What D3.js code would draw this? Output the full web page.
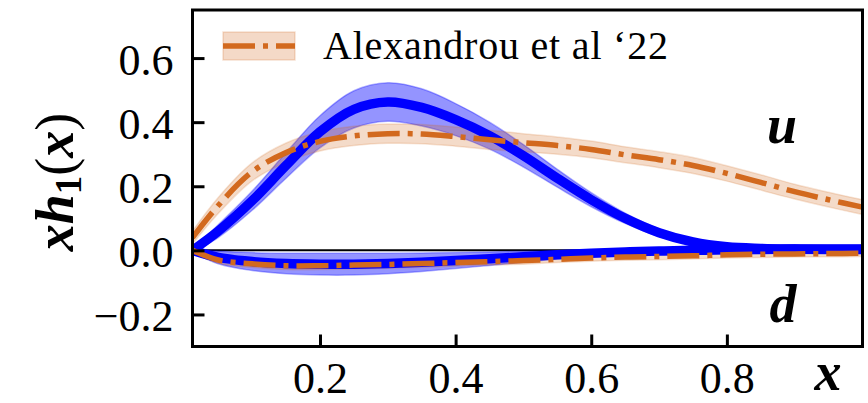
<!DOCTYPE html>
<html><head><meta charset="utf-8">
<script src="https://cdn.jsdelivr.net/npm/d3@7"></script>
<style>html,body{margin:0;padding:0;background:#fff;}svg{display:block;}</style>
</head><body>
<svg id="chart" width="868" height="403"></svg>
<script>
// ---- data ----
const xGrid   = [0.012,0.05,0.1,0.15,0.2,0.25,0.3,0.35,0.4,0.45,0.5,0.55,0.6,0.65,0.7,0.75,0.8,0.85,0.9,0.95,1.0];
const uLat    = [0.0,0.06,0.155,0.265,0.37,0.44,0.463,0.446,0.408,0.358,0.295,0.225,0.158,0.10,0.055,0.026,0.011,0.006,0.004,0.003,0.003];
const uLatErr = [0.005,0.02,0.03,0.04,0.05,0.058,0.06,0.058,0.05,0.042,0.035,0.028,0.022,0.016,0.012,0.009,0.006,0.005,0.004,0.004,0.004];
const dLat    = [0.0,-0.022,-0.035,-0.041,-0.043,-0.043,-0.041,-0.037,-0.032,-0.026,-0.02,-0.014,-0.009,-0.005,-0.002,0.0,0.002,0.003,0.004,0.004,0.004];
const dLatErr = [0.005,0.02,0.028,0.032,0.034,0.034,0.032,0.029,0.025,0.021,0.017,0.013,0.01,0.008,0.007,0.006,0.005,0.005,0.005,0.005,0.005];
const uAlex    = [0.04,0.14,0.245,0.305,0.34,0.357,0.364,0.363,0.355,0.345,0.336,0.327,0.315,0.298,0.283,0.265,0.24,0.212,0.183,0.158,0.135];
const uAlexErr = [0.02,0.025,0.028,0.03,0.03,0.03,0.03,0.03,0.03,0.03,0.028,0.027,0.026,0.025,0.025,0.025,0.024,0.024,0.023,0.023,0.023];
const dAlex    = [0.0,-0.03,-0.042,-0.048,-0.048,-0.046,-0.044,-0.041,-0.038,-0.035,-0.032,-0.028,-0.024,-0.021,-0.019,-0.017,-0.014,-0.012,-0.011,-0.01,-0.009];
const dAlexErr = [0.005,0.01,0.011,0.012,0.012,0.012,0.012,0.012,0.011,0.011,0.011,0.01,0.01,0.01,0.01,0.01,0.01,0.01,0.01,0.01,0.01];
const xTicks = [0.2,0.4,0.6,0.8];
const yTicks = [-0.2,0.0,0.2,0.4,0.6];
const legendLabel = "Alexandrou et al \u201822";

// ---- layout ----
const W = 868, H = 403;
const m = {left:192.5, top:10, right:5.5, bottom:56.5};
const svg = d3.select("#chart");
const x = d3.scaleLinear().domain([0.012,1.0]).range([m.left, W-m.right]);
const y = d3.scaleLinear().domain([-0.3,0.75]).range([H-m.bottom, m.top]);
const BLUE = "#0000ff", ORANGE = "#d2691e";
const FONT = "'Liberation Serif', 'Times New Roman', serif";

svg.append("defs").append("clipPath").attr("id","clip")
  .append("rect").attr("x",m.left).attr("y",m.top).attr("width",W-m.left-m.right).attr("height",H-m.top-m.bottom);
const plot = svg.append("g").attr("clip-path","url(#clip)");

// zero line
plot.append("line").attr("x1",m.left).attr("x2",W-m.right).attr("y1",y(0)).attr("y2",y(0))
  .attr("stroke","#000").attr("stroke-width",2);

const curve = d3.curveCatmullRom.alpha(0.5);
function band(mean, err){
  return d3.area().curve(curve).x((d,i)=>x(xGrid[i])).y0((d,i)=>y(mean[i]-err[i])).y1((d,i)=>y(mean[i]+err[i]))(xGrid);
}
function edge(mean, err, s){
  return d3.line().curve(curve).x((d,i)=>x(xGrid[i])).y((d,i)=>y(mean[i]+s*err[i]))(xGrid);
}
function line(mean){
  return d3.line().curve(curve).x((d,i)=>x(xGrid[i])).y((d,i)=>y(mean[i]))(xGrid);
}
function drawBand(mean, err, color, fo, so){
  plot.append("path").attr("d",band(mean,err)).attr("fill",color).attr("fill-opacity",fo);
  [1,-1].forEach(s=>plot.append("path").attr("d",edge(mean,err,s)).attr("fill","none")
    .attr("stroke",color).attr("stroke-opacity",so).attr("stroke-width",1.5));
}
drawBand(uLat,uLatErr,BLUE,0.42,0.3);
drawBand(dLat,dLatErr,BLUE,0.42,0.3);
drawBand(uAlex,uAlexErr,ORANGE,0.24,0.18);
drawBand(dAlex,dAlexErr,ORANGE,0.24,0.18);
[uLat,dLat].forEach(s=>plot.append("path").attr("d",line(s)).attr("fill","none")
  .attr("stroke",BLUE).attr("stroke-width",9.5));
[uAlex,dAlex].forEach(s=>plot.append("path").attr("d",line(s)).attr("fill","none")
  .attr("stroke",ORANGE).attr("stroke-width",5.5).attr("stroke-dasharray","32,8,5,8"));

// axes
const fmt = v => (v<0?"\u2212":"") + Math.abs(v).toFixed(1);
const xAxis = svg.append("g").attr("transform",`translate(0,${H-m.bottom})`)
  .call(d3.axisBottom(x).tickValues(xTicks).tickSize(-12).tickPadding(0).tickFormat(fmt));
const yAxis = svg.append("g").attr("transform",`translate(${m.left},0)`)
  .call(d3.axisLeft(y).tickValues(yTicks).tickSize(-12).tickPadding(0).tickFormat(fmt));
[xAxis,yAxis].forEach(a=>{
  a.select(".domain").remove();
  a.selectAll(".tick line").attr("stroke","#000").attr("stroke-width",3);
  a.selectAll(".tick text").attr("font-family",FONT).attr("font-size",44).attr("fill","#000");
});
xAxis.selectAll(".tick text").attr("y",46).attr("dy",null).attr("text-anchor","middle");
yAxis.selectAll(".tick text").attr("x",-19).attr("dy","0.37em").attr("text-anchor","end");

// frame
svg.append("rect").attr("x",m.left).attr("y",m.top).attr("width",W-m.left-m.right).attr("height",H-m.top-m.bottom)
  .attr("fill","none").attr("stroke","#000").attr("stroke-width",3);

// legend
const lg = svg.append("g");
lg.append("rect").attr("x",223).attr("y",32).attr("width",72).attr("height",28)
  .attr("fill",ORANGE).attr("fill-opacity",0.25).attr("stroke",ORANGE).attr("stroke-opacity",0.2).attr("stroke-width",1.5);
lg.append("line").attr("x1",223).attr("x2",295).attr("y1",46).attr("y2",46)
  .attr("stroke",ORANGE).attr("stroke-width",5.5).attr("stroke-dasharray","32,8,5,8");
lg.append("text").attr("x",323).attr("y",59).attr("font-family",FONT).attr("font-size",40)
  .attr("textLength",345).attr("lengthAdjust","spacing").text(legendLabel);

// annotations
const bi = sel => sel.attr("font-family",FONT).attr("font-weight","bold").attr("font-style","italic");
bi(svg.append("text").attr("x",782).attr("y",143).attr("text-anchor","middle").attr("font-size",54).text("u"));
bi(svg.append("text").attr("x",783).attr("y",322).attr("text-anchor","middle").attr("font-size",54).text("d"));
bi(svg.append("text").attr("x",828).attr("y",390).attr("text-anchor","middle").attr("font-size",54).text("x"));

// y label
const yl = svg.append("text").attr("transform","translate(73,182) rotate(-90)")
  .attr("text-anchor","middle").attr("font-family",FONT).attr("font-size",54);
yl.append("tspan").attr("font-weight","bold").attr("font-style","italic").text("xh");
yl.append("tspan").attr("font-weight","bold").attr("font-size",37).attr("dy",8).text("1");
yl.append("tspan").attr("dy",-8).text("(");
yl.append("tspan").attr("font-weight","bold").attr("font-style","italic").text("x");
yl.append("tspan").text(")");
</script>
</body></html>
